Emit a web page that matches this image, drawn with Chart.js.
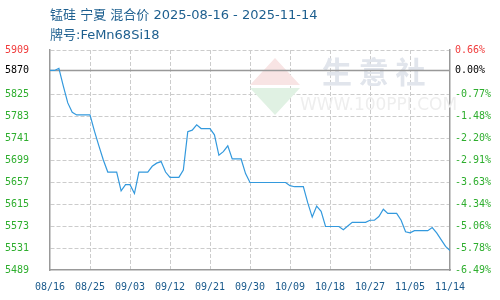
<!DOCTYPE html>
<html>
<head>
<meta charset="utf-8">
<script src="https://cdn.jsdelivr.net/npm/chart.js@4/dist/chart.umd.min.js"></script>
<style>
  html, body { margin: 0; padding: 0; background: #fff; }
</style>
</head>
<body>
<canvas id="chartHarga" width="500" height="300"></canvas>
<script>
const titleLines = ['锰硅 宁夏 混合价 2025-08-16 - 2025-11-14', '牌号:FeMn68Si18'];
const xTickLabels = ['08/16', '08/25', '09/03', '09/12', '09/21', '09/30', '10/09', '10/18', '10/27', '11/05', '11/14'];
const yTicks = [5489, 5531, 5573, 5615, 5657, 5699, 5741, 5783, 5825, 5870, 5909];
const pctLabels = ['-6.49%', '-5.78%', '-5.06%', '-4.34%', '-3.63%', '-2.91%', '-2.20%', '-1.48%', '-0.77%', '0.00%', '0.66%'];
const basePrice = 5870;

// harga harian 08/16 .. 11/14
const prices = [
  5870, 5870, 5874, 5840, 5808, 5790, 5785, 5785, 5785, 5785,
  5754, 5726, 5699, 5676, 5676, 5676, 5640, 5652, 5652, 5635,
  5676, 5676, 5676, 5687, 5693, 5696, 5676, 5666, 5666, 5666,
  5680, 5753, 5756, 5766, 5759, 5759, 5759, 5747, 5708, 5715,
  5726, 5701, 5701, 5701, 5673, 5656, 5656, 5656, 5656, 5656,
  5656, 5656, 5656, 5656, 5650, 5648, 5648, 5648, 5617, 5590,
  5611, 5601, 5572, 5572, 5572, 5572, 5566, 5573, 5580, 5580,
  5580, 5580, 5584, 5584, 5591, 5605, 5597, 5597, 5597, 5584,
  5562, 5560, 5564, 5564, 5564, 5564, 5570, 5560, 5547, 5534,
  5526
];

const RED = '#f03c3c';
const GREEN = '#2eae2e';
const GRID = '#cccccc';
const AXIS = '#999999';

function warnaTick(ctx) {
  const v = ctx.tick.value;
  if (v === yTicks[yTicks.length - 1]) return RED;
  if (v === basePrice) return '#000000';
  return GREEN;
}

const pasangTickY = axis => { axis.ticks = yTicks.map(v => ({ value: v })); };

const pluginLatar = {
  id: 'latar',
  beforeDatasetsDraw(chart) {
    const { ctx, chartArea, scales } = chart;
    ctx.save();
    // watermark
    ctx.fillStyle = '#f8e4e4';
    ctx.beginPath();
    ctx.moveTo(275, 58); ctx.lineTo(300, 85); ctx.lineTo(250, 85); ctx.closePath();
    ctx.fill();
    ctx.fillStyle = '#e0f1e3';
    ctx.beginPath();
    ctx.moveTo(250, 88); ctx.lineTo(300, 88); ctx.lineTo(275, 115); ctx.closePath();
    ctx.fill();
    ctx.fillStyle = '#e1e5ec';
    ctx.font = 'bold 30px "Noto Sans CJK SC"';
    ctx.textBaseline = 'middle';
    ctx.textAlign = 'left';
    ctx.fillText('生 意 社', 322, 72);
    ctx.fillStyle = '#eeeeee';
    ctx.font = '17px "DejaVu Sans"';
    ctx.fillText('WWW.100PPI.COM', 300, 106);
    // garis dasar 0.00%
    const y = scales.y.getPixelForValue(basePrice);
    ctx.strokeStyle = AXIS;
    ctx.lineWidth = 1.5;
    ctx.beginPath();
    ctx.moveTo(chartArea.left, y);
    ctx.lineTo(chartArea.right, y);
    ctx.stroke();
    ctx.restore();
  },
  afterDraw(chart) {
    const { ctx } = chart;
    ctx.save();
    ctx.fillStyle = '#1d5f8f';
    ctx.font = '13px "DejaVu Sans", "Noto Sans CJK SC"';
    ctx.textBaseline = 'middle';
    ctx.textAlign = 'left';
    ctx.fillText(titleLines[0], 50, 16);
    ctx.fillText(titleLines[1], 50, 36);
    ctx.restore();
  }
};

new Chart(document.getElementById('chartHarga'), {
  type: 'line',
  data: {
    datasets: [{
      data: prices.map((v, i) => ({ x: i, y: v })),
      borderColor: '#3399dd',
      borderWidth: 1.2,
      pointRadius: 0,
      tension: 0,
      fill: false
    }]
  },
  options: {
    responsive: false,
    animation: false,
    layout: { padding: { left: 5, top: 50, right: 0, bottom: 0 } },
    plugins: { legend: { display: false }, tooltip: { enabled: false } },
    scales: {
      x: {
        type: 'linear',
        min: 0,
        max: prices.length - 1,
        afterBuildTicks: axis => { axis.ticks = xTickLabels.map((_, i) => ({ value: i * 9 })); },
        afterFit: axis => { axis.height = 30; },
        ticks: {
          autoSkip: false,
          maxRotation: 0,
          padding: 11,
          color: '#1a5a8c',
          font: { family: 'DejaVu Sans Mono', size: 10 },
          callback: v => xTickLabels[v / 9]
        },
        grid: {
          drawTicks: false,
          color: ctx => (ctx.tick && (ctx.tick.value === 0 || ctx.tick.value === 90)) ? 'transparent' : GRID
        },
        border: { color: AXIS, width: 1.5, dash: [4, 2] }
      },
      y: {
        position: 'left',
        min: yTicks[0],
        max: yTicks[yTicks.length - 1],
        afterBuildTicks: pasangTickY,
        afterFit: axis => { axis.width = 45; },
        ticks: {
          crossAlign: 'far',
          color: warnaTick,
          font: { family: 'DejaVu Sans Mono', size: 10 },
          callback: v => String(v)
        },
        grid: {
          drawTicks: false,
          color: ctx => (ctx.tick && (ctx.tick.value === yTicks[0] || ctx.tick.value === basePrice)) ? 'transparent' : GRID
        },
        border: { color: AXIS, width: 1.5, dash: [4, 2] }
      },
      y2: {
        position: 'right',
        min: yTicks[0],
        max: yTicks[yTicks.length - 1],
        afterBuildTicks: pasangTickY,
        afterFit: axis => { axis.width = 50; },
        ticks: {
          padding: 5,
          color: warnaTick,
          font: { family: 'DejaVu Sans Mono', size: 10 },
          callback: (v, i) => pctLabels[i]
        },
        grid: { drawTicks: false, drawOnChartArea: false },
        border: { color: AXIS, width: 1.5 }
      }
    }
  },
  plugins: [pluginLatar]
});
</script>
</body>
</html>
